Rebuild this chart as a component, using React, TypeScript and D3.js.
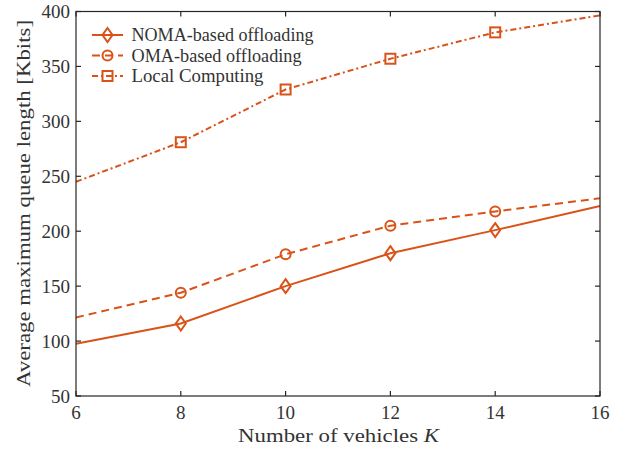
import React from "react";
import * as d3 from "d3";

const vehicles = [6, 8, 10, 12, 14, 16];
const nomaValues = [97.5, 116, 150, 180, 201, 223];
const omaValues = [121.5, 144, 179, 205, 218, 230];
const localValues = [245, 281, 329, 357, 381, 396.5];
const markerIdx = [1, 2, 3, 4];
const xTicks = [6, 8, 10, 12, 14, 16];
const yTicks = [50, 100, 150, 200, 250, 300, 350, 400];
const legendWidths = [182, 170, 132];

const W = 633, H = 451;
const M = { left: 76, right: 600, top: 11.5, bottom: 396 };
const COLOR = "#D95319";
const AX = "#262626";
const TXT = "#333333";
const FONT = "'Liberation Serif', 'DejaVu Serif', serif";

type Series = { name: string; values: number[]; dash: string; marker: "diamond" | "circle" | "square" };
const series: Series[] = [
  { name: "NOMA-based offloading", values: nomaValues, dash: "", marker: "diamond" },
  { name: "OMA-based offloading", values: omaValues, dash: "8,5", marker: "circle" },
  { name: "Local Computing", values: localValues, dash: "6,3,2,3", marker: "square" },
];

function Marker({ kind, x, y }: { kind: string; x: number; y: number }) {
  const common = { fill: "none", stroke: COLOR, strokeWidth: 2 };
  if (kind === "diamond") {
    return <path d={`M${x},${y - 7}L${x + 5},${y}L${x},${y + 7}L${x - 5},${y}Z`} {...common} />;
  }
  if (kind === "circle") return <circle cx={x} cy={y} r={5} {...common} />;
  return <rect x={x - 5} y={y - 5} width={10} height={10} {...common} />;
}

export default function App() {
  const x = d3.scaleLinear().domain([6, 16]).range([M.left, M.right]);
  const y = d3.scaleLinear().domain([50, 400]).range([M.bottom, M.top]);
  const line = d3
    .line<number>()
    .x((_, i) => x(vehicles[i]))
    .y((d) => y(d));
  const tl = 5;
  return (
    <svg width={W} height={H} style={{ position: "absolute", left: 0, top: 0, background: "#fff" }} fontFamily={FONT}>
      <rect x={0} y={0} width={W} height={H} fill="#fff" />
      {series.map((s) => (
        <g key={s.name}>
          <path d={line(s.values) || ""} fill="none" stroke={COLOR} strokeWidth={2} strokeDasharray={s.dash || undefined} />
          {markerIdx.map((i) => (
            <Marker key={i} kind={s.marker} x={x(vehicles[i])} y={y(s.values[i])} />
          ))}
        </g>
      ))}
      <rect x={M.left} y={M.top} width={M.right - M.left} height={M.bottom - M.top} fill="none" stroke={AX} strokeWidth={1.2} />
      {xTicks.map((t) => (
        <g key={"x" + t}>
          <line x1={x(t)} x2={x(t)} y1={M.bottom} y2={M.bottom - tl} stroke={AX} strokeWidth={1.2} />
          <line x1={x(t)} x2={x(t)} y1={M.top} y2={M.top + tl} stroke={AX} strokeWidth={1.2} />
          <text x={x(t)} y={M.bottom + 23} textAnchor="middle" fontSize={19} fill={TXT}>{t}</text>
        </g>
      ))}
      {yTicks.map((t) => (
        <g key={"y" + t}>
          <line x1={M.left} x2={M.left + tl} y1={y(t)} y2={y(t)} stroke={AX} strokeWidth={1.2} />
          <line x1={M.right} x2={M.right - tl} y1={y(t)} y2={y(t)} stroke={AX} strokeWidth={1.2} />
          <text x={M.left - 6} y={y(t) + 6.5} textAnchor="end" fontSize={19} fill={TXT}>{t}</text>
        </g>
      ))}
      <text x={238} y={442} fontSize={19} fill={TXT} textLength={201} lengthAdjust="spacingAndGlyphs">
        Number of vehicles <tspan fontStyle="italic">K</tspan>
      </text>
      <text transform={`translate(30,203.5) rotate(-90)`} textAnchor="middle" fontSize={19} fill={TXT} textLength={367} lengthAdjust="spacingAndGlyphs">
        Average maximum queue length [Kbits]
      </text>
      {series.map((s, i) => {
        const ly = 35 + i * 20.5;
        return (
          <g key={"lg" + i}>
            <line x1={92} x2={123} y1={ly} y2={ly} stroke={COLOR} strokeWidth={2} strokeDasharray={s.dash || undefined} />
            <Marker kind={s.marker} x={107.5} y={ly} />
            <text x={131.5} y={ly + 6} fontSize={18} fill={TXT} textLength={legendWidths[i]} lengthAdjust="spacingAndGlyphs">{s.name}</text>
          </g>
        );
      })}
    </svg>
  );
}
